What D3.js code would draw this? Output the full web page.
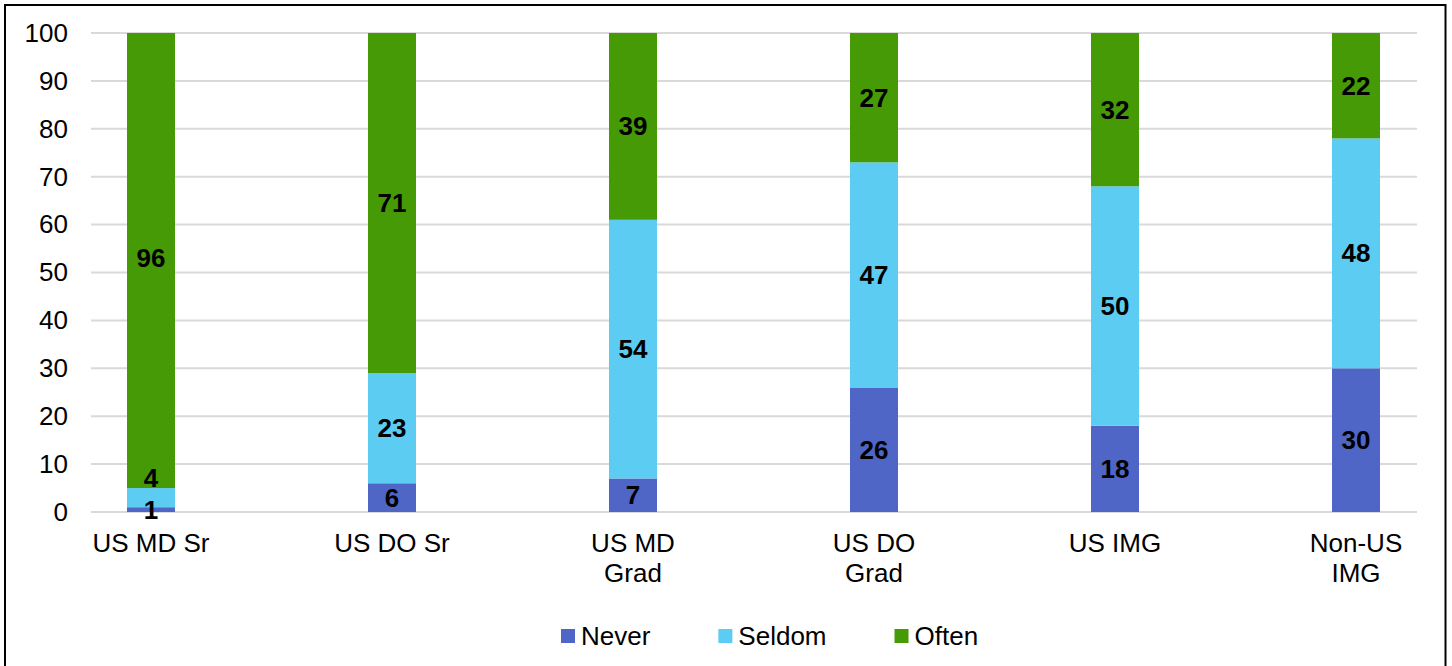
<!DOCTYPE html>
<html>
<head>
<meta charset="utf-8">
<script src="https://cdn.jsdelivr.net/npm/d3@7"></script>
<style>
html,body{margin:0;padding:0;background:#fff;}
text{font-family:"Liberation Sans",Arial,sans-serif;}
</style>
</head>
<body>
<svg id="chart" width="1452" height="666"></svg>
<script>
const categories = [["US MD Sr"], ["US DO Sr"], ["US MD", "Grad"], ["US DO", "Grad"], ["US IMG"], ["Non-US", "IMG"]];
const seriesNames = ["Never", "Seldom", "Often"];
const never = [1, 6, 7, 26, 18, 30];
const seldom = [4, 23, 54, 47, 50, 48];
const often = [96, 71, 39, 27, 32, 22];
const yTicks = [0, 10, 20, 30, 40, 50, 60, 70, 80, 90, 100];
const colors = ["#4F66C7", "#5DCCF2", "#459A05"];

const svg = d3.select("#chart");
const W = 1452, H = 666;
const FS = 26;
svg.append("rect").attr("width", W).attr("height", H).attr("fill", "#fff");
svg.append("rect").attr("x", 5).attr("y", 5).attr("width", 1440.5).attr("height", 680)
  .attr("fill", "none").attr("stroke", "#000").attr("stroke-width", 2);

const plotL = 91, plotR = 1417, plotT = 33, plotB = 512;
const y = d3.scaleLinear().domain([0, 100]).range([plotB, plotT]);
const keys = categories.map(c => c.join(" "));
const x = d3.scalePoint().domain(keys).range([151, 1356]);
const barW = 48;

// gridlines
svg.append("g").selectAll("line").data(yTicks).join("line")
  .attr("x1", plotL).attr("x2", plotR)
  .attr("y1", d => y(d)).attr("y2", d => y(d))
  .attr("stroke", "#d9d9d9").attr("stroke-width", 2);

// y axis labels
const yAxis = d3.axisLeft(y).tickValues(yTicks).tickSize(0).tickPadding(0);
const ga = svg.append("g").attr("transform", `translate(${plotL - 23},0)`).call(yAxis);
ga.select(".domain").remove();
ga.selectAll("text").attr("font-size", FS).attr("fill", "#000")
  .style("font-family", '"Liberation Sans", Arial, sans-serif');

// stacked data
const data = keys.map((k, i) => ({ key: k, Never: never[i], Seldom: seldom[i], Often: often[i] }));
const stack = d3.stack().keys(seriesNames)(data);

const clipId = "plotclip";
svg.append("clipPath").attr("id", clipId).append("rect")
  .attr("x", 0).attr("y", plotT).attr("width", W).attr("height", plotB - plotT + 1);

const barsG = svg.append("g").attr("clip-path", `url(#${clipId})`);
stack.forEach((s, si) => {
  barsG.append("g").selectAll("rect").data(s).join("rect")
    .attr("x", d => x(d.data.key) - barW / 2)
    .attr("width", barW)
    .attr("y", d => y(Math.min(d[1], 100)))
    .attr("height", d => y(d[0]) - y(Math.min(d[1], 100)))
    .attr("fill", colors[si]);
});

// data labels
const labelsG = svg.append("g");
data.forEach((d, i) => {
  let prevY = null;
  stack.forEach((s, si) => {
    const seg = s[i];
    const v = seg[1] - seg[0];
    let ly = y((seg[0] + seg[1]) / 2);
    if (prevY !== null && prevY - ly < 22) ly = y(seg[1]) - 10;
    prevY = ly;
    labelsG.append("text")
      .attr("x", x(d.key)).attr("y", ly)
      .attr("text-anchor", "middle").attr("dominant-baseline", "central")
      .attr("font-size", FS).attr("font-weight", "bold").attr("fill", "#000")
      .text(v);
  });
});

// category labels
const catG = svg.append("g");
categories.forEach((c, i) => {
  const t = catG.append("text").attr("x", x(keys[i])).attr("y", 552)
    .attr("text-anchor", "middle").attr("font-size", FS).attr("fill", "#000");
  c.forEach((line, li) => {
    t.append("tspan").attr("x", x(keys[i])).attr("y", 552 + li * 30).text(line);
  });
});

// legend
const legG = svg.append("g");
let lx = 561;
seriesNames.forEach((n, i) => {
  legG.append("rect").attr("x", lx).attr("y", 629).attr("width", 14).attr("height", 14).attr("fill", colors[i]);
  const t = legG.append("text").attr("x", lx + 20).attr("y", 636)
    .attr("dominant-baseline", "central").attr("font-size", FS).attr("fill", "#000").text(n);
  lx += 20 + t.node().getComputedTextLength() + 68;
});
</script>
</body>
</html>
